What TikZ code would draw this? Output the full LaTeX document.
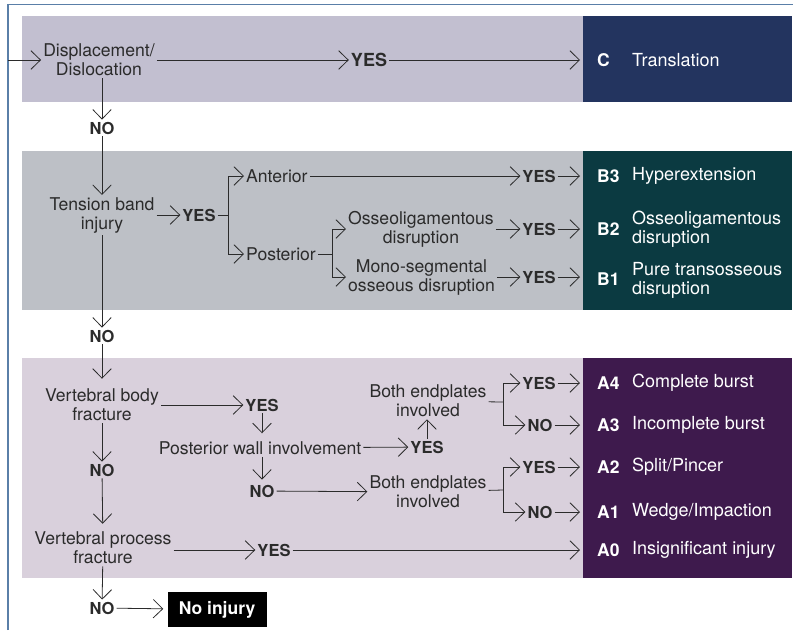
\documentclass[tikz,border=0pt]{standalone}
\usepackage{fontspec}
\setmainfont{TeX Gyre Heros}
\usetikzlibrary{arrows.meta}
\definecolor{ink}{HTML}{2B2B2B}
\definecolor{frameblue}{HTML}{5A7FA8}
\definecolor{bgC}{HTML}{C2BFD0}
\definecolor{boxC}{HTML}{23345F}
\definecolor{bgB}{HTML}{BDC0C6}
\definecolor{boxB}{HTML}{0B3A41}
\definecolor{bgA}{HTML}{D9D0DC}
\definecolor{boxA}{HTML}{3E1A4D}
\begin{document}
\begin{tikzpicture}[x=1pt,y=-1pt,
  q/.style={align=center,inner sep=2pt,text=ink,font=\fontsize{17.6}{19}\selectfont},
  ans/.style={inner sep=2pt,text=ink,font=\fontsize{16.5}{18}\selectfont\bfseries},
  code/.style={anchor=west,inner sep=0pt,text=white,font=\fontsize{17.5}{19}\selectfont\bfseries},
  cls/.style={anchor=west,align=left,inner sep=0pt,text=white,font=\fontsize{18}{19}\selectfont},
  box/.style={anchor=north west,inner sep=0pt,minimum width=209pt},
  ln/.style={draw=ink,line width=0.8pt},
  arr/.style={ln,-{Straight Barb[length=9.5pt,width=18.5pt,line width=0.8pt]}}]
\pgfmathsetmacro{\xc}{597}
\pgfmathsetmacro{\xt}{632}
\useasboundingbox (0,0) rectangle (795,630);
\draw[frameblue,line width=1.3pt] (8,630) -- (8,4.5) -- (793,4.5);
% panels
\fill[bgC] (22,16) rectangle (583,102);
\fill[bgB] (22,151) rectangle (583,310);
\fill[bgA] (22,358) rectangle (583,578);
\node[box,fill=boxC,minimum height=86pt] (bxC) at (583,16) {};
\node[box,fill=boxB,minimum height=159pt] (bxB) at (583,151) {};
\node[box,fill=boxA,minimum height=220pt] (bxA) at (583,358) {};
% type C
\coordinate (start) at (8,60);
\node[q] (disp) at (99,60) {Displacement/\\Dislocation};
\node[ans,font=\fontsize{18}{20}\selectfont\bfseries] (yesC) at (369,60) {YES};
\node[code] (cC) at (\xc,60) {C};
\node[cls] (tC) at (\xt,60) {Translation};
\draw[arr] (start) -- (disp);
\draw[arr] (disp) -- (yesC);
\draw[arr,shorten >=3pt] (yesC) -- (yesC -| bxC.west);
\node[ans] (no1) at (102,128) {NO};
\draw[arr] (disp.south -| no1) -- (no1);
% type B
\node[q] (tens) at (102,215) {Tension band\\injury};
\node[ans] (yesT) at (199,215) {YES};
\coordinate (brT) at (228,215);
\node[q,anchor=west] (ant) at (244,176) {Anterior};
\node[q,anchor=west] (post) at (244,254) {Posterior};
\draw[arr] (no1) -- (tens);
\draw[arr] (tens) -- (yesT);
\draw[ln] (yesT) -- (brT);
\draw[arr] (brT) |- (ant);
\draw[arr] (brT) |- (post);
\coordinate (brP) at (332,254);
\node[q,anchor=west] (osseo) at (346,229) {Osseoligamentous\\disruption};
\node[q,anchor=west] (mono) at (346,277) {Mono-segmental\\osseous disruption};
\draw[ln] (post) -- (brP);
\draw[arr] (brP) |- (osseo);
\draw[arr] (brP) |- (mono);
\node[ans] (yesB3) at (539,176) {YES};
\node[ans] (yesB2) at (539,229) {YES};
\node[ans] (yesB1) at (539,277) {YES};
\draw[arr] (ant) -- (yesB3);
\draw[arr] (osseo) -- (yesB2);
\draw[arr] (mono) -- (yesB1);
\draw[arr,shorten >=3pt] (yesB3) -- (yesB3 -| bxB.west);
\draw[arr,shorten >=3pt] (yesB2) -- (yesB2 -| bxB.west);
\draw[arr,shorten >=3pt] (yesB1) -- (yesB1 -| bxB.west);
\node[code] (cB3) at (\xc,176) {B3};
\node[cls] (tB3) at (\xt,176) {Hyperextension};
\node[code] (cB2) at (\xc,229) {B2};
\node[cls] (tB2) at (\xt,229) {Osseoligamentous\\disruption};
\node[code] (cB1) at (\xc,279) {B1};
\node[cls] (tB1) at (\xt,280) {Pure transosseous\\disruption};
\node[ans] (no2) at (102,336) {NO};
\draw[arr] (tens) -- (no2);
% type A
\node[q] (vbf) at (102,405) {Vertebral body\\fracture};
\node[ans] (yesV) at (262,405) {YES};
\node[q] (pwi) at (260,448) {Posterior wall involvement};
\node[ans] (yesP) at (427,447) {YES};
\node[q] (bep1) at (428,401) {Both endplates\\involved};
\coordinate (brA1) at (503,402);
\node[ans] (yesA4) at (539,383) {YES};
\node[ans] (noA3) at (540,425) {NO};
\draw[arr,shorten >=8pt] (no2) -- (vbf);
\draw[arr] (vbf) -- (yesV);
\draw[arr,shorten >=6pt] (yesV) -- (yesV |- pwi.north);
\draw[arr] (pwi) -- (yesP);
\draw[arr] (yesP) -- (yesP |- bep1.south);
\draw[ln] (bep1) -- (brA1);
\draw[arr] (brA1) |- (yesA4);
\draw[arr] (brA1) |- (noA3);
\node[ans] (noP) at (262,491) {NO};
\node[q] (bep2) at (428,492) {Both endplates\\involved};
\coordinate (brA2) at (503,490);
\node[ans] (yesA2) at (539,467) {YES};
\node[ans] (noA1) at (540,512) {NO};
\draw[arr,shorten >=3pt] (pwi.south -| noP) -- (noP);
\draw[arr] (noP) -- (bep2);
\draw[ln] (bep2) -- (brA2);
\draw[arr] (brA2) |- (yesA2);
\draw[arr] (brA2) |- (noA1);
\node[ans] (noV) at (102,470) {NO};
\node[q] (vpf) at (103,548) {Vertebral process\\fracture};
\node[ans] (yesVP) at (274,550) {YES};
\draw[arr] (vbf) -- (noV);
\draw[arr,shorten >=6pt] (noV) -- (vpf);
\draw[arr] (vpf.east |- yesVP) -- (yesVP);
\draw[arr,shorten >=3pt] (yesA4) -- (yesA4 -| bxA.west);
\draw[arr,shorten >=3pt] (noA3) -- (noA3 -| bxA.west);
\draw[arr,shorten >=3pt] (yesA2) -- (yesA2 -| bxA.west);
\draw[arr,shorten >=3pt] (noA1) -- (noA1 -| bxA.west);
\draw[arr,shorten >=3pt] (yesVP) -- (yesVP -| bxA.west);
\node[code] (cA4) at (\xc,383) {A4};
\node[cls] (tA4) at (\xt,383) {Complete burst};
\node[code] (cA3) at (\xc,425) {A3};
\node[cls] (tA3) at (\xt,425) {Incomplete burst};
\node[code] (cA2) at (\xc,467) {A2};
\node[cls] (tA2) at (\xt,467) {Split/Pincer};
\node[code] (cA1) at (\xc,512) {A1};
\node[cls] (tA1) at (\xt,512) {Wedge/Impaction};
\node[code] (cA0) at (\xc,550) {A0};
\node[cls] (tA0) at (\xt,550) {Insignificant injury};
% no injury
\node[ans] (noF) at (102,608) {NO};
\node[fill=black,text=white,minimum width=99pt,minimum height=35pt,font=\fontsize{17.5}{19}\selectfont\bfseries] (none) at (217,609.5) {No injury};
\draw[arr] (vpf) -- (noF);
\draw[arr,shorten >=4pt] (noF) -- (none);
\end{tikzpicture}
\end{document}
